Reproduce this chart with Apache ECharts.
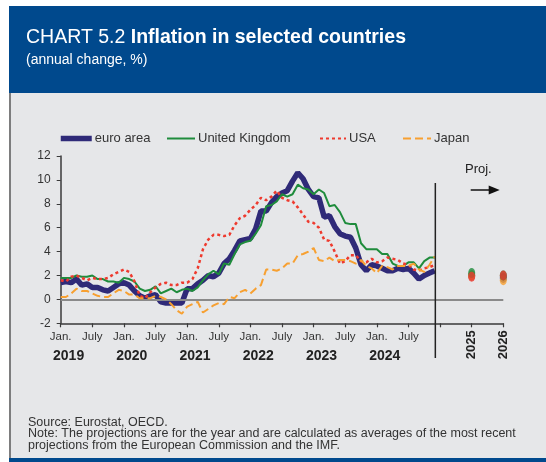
<!DOCTYPE html>
<html><head><meta charset="utf-8">
<script src="https://cdn.jsdelivr.net/npm/echarts@6/dist/echarts.min.js"></script>
<style>html,body{margin:0;padding:0;background:#fff}#c{width:546px;height:462px}</style>
</head><body><div id="c"></div>
<script>
// months since Jan 2019 (0 = Jan 2019 ... 71 = Dec 2024)
const euroArea = [1.4,1.5,1.4,1.7,1.2,1.3,1.0,1.0,0.8,0.7,1.0,1.3,
  1.4,1.2,0.7,0.3,0.1,0.3,0.4,-0.2,-0.3,-0.3,-0.3,-0.3,
  0.9,0.9,1.3,1.6,2.0,1.9,2.2,3.0,3.4,4.1,4.9,5.0,
  5.1,5.9,7.4,7.4,8.1,8.6,8.9,9.1,9.9,10.6,10.1,9.2,
  8.6,8.5,6.9,7.0,6.1,5.5,5.3,5.2,4.3,2.9,2.4,2.9,
  2.8,2.6,2.4,2.4,2.6,2.5,2.6,2.2,1.7,2.0,2.2,2.4];
const unitedKingdom = [1.8,1.8,1.8,2.0,1.9,1.9,2.0,1.7,1.7,1.5,1.5,1.4,
  1.8,1.7,1.5,0.9,0.7,0.8,1.1,0.5,0.7,0.9,0.6,0.8,
  0.9,0.7,1.0,1.6,2.1,2.4,2.1,3.0,2.9,3.8,4.6,4.8,
  4.9,5.5,6.2,7.8,7.9,8.2,8.8,8.6,8.8,9.6,9.3,9.2,
  8.8,9.2,8.9,7.8,7.9,7.3,6.4,6.3,6.3,4.7,4.2,4.2,
  4.2,3.8,3.8,3.0,2.8,2.8,3.1,3.1,2.6,3.2,3.5,3.5];
const usa = [1.6,1.5,1.9,2.0,1.8,1.6,1.8,1.7,1.7,1.8,2.1,2.3,
  2.5,2.3,1.5,0.3,0.1,0.6,1.0,1.3,1.4,1.2,1.2,1.4,
  1.4,1.7,2.6,4.2,5.0,5.4,5.4,5.3,5.4,6.2,6.8,7.0,
  7.5,7.9,8.5,8.3,8.6,9.1,8.5,8.3,8.2,7.7,7.1,6.5,
  6.4,6.0,5.0,4.9,4.0,3.0,3.2,3.7,3.7,3.2,3.1,3.4,
  3.1,3.2,3.5,3.4,3.3,3.0,2.9,2.5,2.4,2.6,2.7,2.9];
const japan = [0.2,0.2,0.5,0.9,0.7,0.7,0.5,0.3,0.2,0.2,0.5,0.8,
  0.7,0.4,0.4,0.1,0.1,0.1,0.3,0.2,0.0,-0.4,-0.9,-1.2,
  -0.6,-0.4,-0.2,-1.1,-0.8,-0.5,-0.3,-0.4,0.2,0.1,0.6,0.8,
  0.5,0.9,1.2,2.5,2.5,2.4,2.6,3.0,3.0,3.7,3.8,4.0,
  4.3,3.3,3.2,3.5,3.2,3.3,3.3,3.2,3.0,3.3,2.8,2.6,
  2.2,2.8,2.7,2.5,2.8,2.8,2.8,3.0,2.5,2.3,2.9,3.6];
// projections (2025, 2026), placed at months 78 and 84
const projMonths = [78, 84];
const projYears = ['2025', '2026'];
const projEuro = [2.0, 1.8];
const projUK = [2.2, 2.0];
const projUSA = [1.9, 2.0];
const projJapan = [2.0, 1.6];
const yearLabels = ['2019','2020','2021','2022','2023','2024'];
const projStart = 71.1;

const FONT = '"Liberation Sans", Arial, sans-serif';
const C = {euro:'#2f2a78', uk:'#1f8c3c', usa:'#ee3a2e', jp:'#f7a031'};
const toXY = arr => arr.map((v,i)=>[i,v]);
const projXY = arr => arr.map((v,i)=>[projMonths[i], v]);

const chart = echarts.init(document.getElementById('c'), null, {renderer:'canvas'});
function legendAt(name, left, width, color, type, lw) {
  return {data:[name], left:left, top:132, padding:0, itemWidth:width, itemHeight:14, itemGap:0,
    textStyle:{color:'#333', fontSize:13, fontFamily:FONT, padding:[0,0,0,-2]},
    lineStyle:{width:lw, color:color, type:type}, itemStyle:{opacity:0}};
}
const option = {
  animation:false,
  textStyle:{fontFamily:FONT},
  grid:{left:60.7, right:42.7, top:156, bottom:138.7},
  legend:[
    legendAt('euro area', 58, 31, C.euro, 'solid', 5.5),
    legendAt('United Kingdom', 166, 28, C.uk, 'solid', 2),
    legendAt('USA', 319, 26, C.usa, [3,3], 2),
    legendAt('Japan', 402, 28, C.jp, [8,4], 2)
  ],
  xAxis:[
    {type:'value', min:0, max:84, interval:6,
      axisLine:{lineStyle:{color:'#3a3a3a', width:1.5}, onZero:false},
      axisTick:{length:4, lineStyle:{color:'#3a3a3a', width:1.2}},
      splitLine:{show:false},
      axisLabel:{color:'#333', fontSize:11.5, margin:8, fontFamily:FONT,
        formatter:v => v>=72 ? '' : (v%12===0 ? 'Jan.' : 'July')}},
    {type:'value', min:0, max:84, position:'bottom', offset:18,
      axisLine:{show:false}, axisTick:{show:false}, splitLine:{show:false},
      axisLabel:{color:'#222', fontSize:14, fontWeight:'bold', margin:8, fontFamily:FONT,
        customValues: yearLabels.map((y,i)=>i*12+1.5),
        formatter:v => yearLabels[Math.round((v-1.5)/12)]}},
    {type:'value', min:0, max:84, position:'bottom',
      axisLine:{show:false}, axisTick:{show:false}, splitLine:{show:false},
      axisLabel:{color:'#222', fontSize:13, fontWeight:'bold', margin:7, rotate:90, fontFamily:FONT,
        customValues: projMonths,
        formatter:v => projYears[projMonths.indexOf(Math.round(v))]}}
  ],
  yAxis:{type:'value', min:-2, max:12, interval:2,
    axisLine:{show:true, lineStyle:{color:'#3a3a3a', width:1.5}},
    axisTick:{show:true, length:4, lineStyle:{color:'#3a3a3a'}},
    splitLine:{show:false},
    axisLabel:{color:'#333', fontSize:12, margin:10, fontFamily:FONT}},
  series:[
    {name:'zero', type:'line', data:[], silent:true,
      markLine:{silent:true, symbol:'none', label:{show:false},
        lineStyle:{color:'#8a8a8a', width:2, type:'solid'}, data:[{yAxis:0}]}},
    {name:'euro area', type:'line', data:toXY(euroArea), symbol:'none', z:3,
      lineStyle:{color:C.euro, width:5.5}, itemStyle:{color:C.euro}},
    {name:'United Kingdom', type:'line', data:toXY(unitedKingdom), symbol:'none', z:4,
      lineStyle:{color:C.uk, width:2}, itemStyle:{color:C.uk}},
    {name:'USA', type:'line', data:toXY(usa), symbol:'none', z:5,
      lineStyle:{color:C.usa, width:2.5, type:[3,3]}, itemStyle:{color:C.usa}},
    {name:'Japan', type:'line', data:toXY(japan), symbol:'none', z:6,
      lineStyle:{color:C.jp, width:2, type:[8,4]}, itemStyle:{color:C.jp}},
    {name:'pEuro', type:'scatter', data:projXY(projEuro), symbolSize:[7,10], itemStyle:{color:C.euro}, z:7},
    {name:'pJapan', type:'scatter', data:projXY(projJapan), symbolSize:[7,10], itemStyle:{color:C.jp}, z:8},
    {name:'pUK', type:'scatter', data:projXY(projUK), symbolSize:[7,10], itemStyle:{color:C.uk}, z:9},
    {name:'pUSA', type:'scatter', data:projXY(projUSA), symbolSize:[7,10], itemStyle:{color:C.usa}, z:10}
  ]
};
chart.setOption(option);

const px = chart.convertToPixel({xAxisIndex:0}, projStart);
const arrowX0 = chart.convertToPixel({xAxisIndex:0}, 78) - 1;
chart.setOption({graphic:[
  {type:'rect', z:-10, silent:true, shape:{x:9, y:6, width:537, height:87}, style:{fill:'#00498d'}},
  {type:'rect', z:-10, silent:true, shape:{x:9, y:93, width:537, height:365}, style:{fill:'#e6e7e9'}},
  {type:'rect', z:-10, silent:true, shape:{x:9, y:458, width:537, height:4}, style:{fill:'#00498d'}},
  {type:'line', z:-9, silent:true, shape:{x1:10, y1:93, x2:10, y2:458}, style:{stroke:'#5a5a5a', lineWidth:1.5}},
  {type:'text', left:26, top:28, silent:true, style:{
    text:'{a|CHART 5.2 }{b|Inflation in selected countries}',
    rich:{a:{fill:'#fff', fontSize:19.5, fontFamily:FONT}, b:{fill:'#fff', fontSize:19.5, fontWeight:'bold', fontFamily:FONT}}}},
  {type:'text', left:26, top:53, silent:true, style:{text:'(annual change, %)', fill:'#fff', fontSize:14, fontFamily:FONT}},
  {type:'line', silent:true, z:20, shape:{x1:px, y1:183, x2:px, y2:358}, style:{stroke:'#222', lineWidth:1.5}},
  {type:'text', left:465, top:163, silent:true, style:{text:'Proj.', fill:'#222', fontSize:13, fontFamily:FONT}},
  {type:'line', silent:true, shape:{x1:arrowX0, y1:190, x2:arrowX0+20, y2:190}, style:{stroke:'#111', lineWidth:1.5}},
  {type:'polygon', silent:true, shape:{points:[[arrowX0+18,185.5],[arrowX0+29,190],[arrowX0+18,194.5]]}, style:{fill:'#111'}},
  {type:'text', left:28, top:416, silent:true, style:{
    text:'Source: Eurostat, OECD.\nNote: The projections are for the year and are calculated as averages of the most recent\nprojections from the European Commission and the IMF.',
    fill:'#333', fontSize:12.5, lineHeight:11.5, fontFamily:FONT}}
]});
</script></body></html>
